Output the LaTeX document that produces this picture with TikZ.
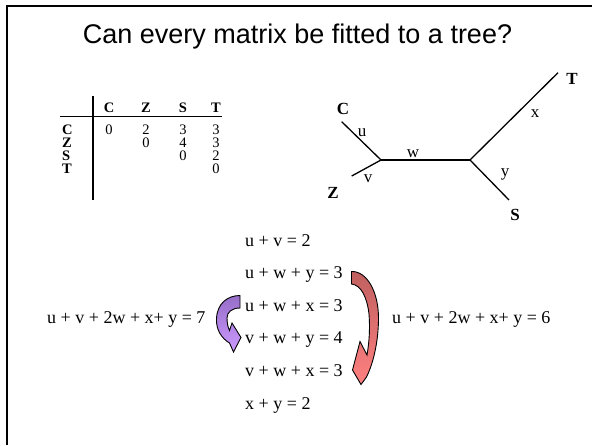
\documentclass[tikz,border=0pt]{standalone}
\usepackage{fontspec}
\setmainfont{Liberation Serif}
\newfontfamily\titlefont{Liberation Sans}
\definecolor{purpdark}{RGB}{150,110,200}
\definecolor{purplight}{RGB}{204,153,255}
\definecolor{reddark}{RGB}{192,96,96}
\definecolor{redlight}{RGB}{255,128,128}
\begin{document}
\begin{tikzpicture}[x=1pt,y=-1pt,
  eqn/.style={inner sep=0pt,anchor=base west,font=\fontsize{18}{20}\selectfont},
  tabtxt/.style={inner sep=0pt,anchor=base,font=\fontsize{14.5}{15}\selectfont},
  tabhdr/.style={inner sep=0pt,anchor=base,font=\fontsize{14.5}{15}\selectfont\bfseries},
  leaf/.style={inner sep=0pt,anchor=base,font=\fontsize{17}{18}\selectfont\bfseries},
  brlab/.style={inner sep=0pt,anchor=base,font=\fontsize{17}{18}\selectfont},
  branch/.style={line width=1.3pt},
  rule/.style={line width=1.8pt},
  curvearrow/.style={draw=black,line width=0.9pt,line join=miter}]
\useasboundingbox (0,0) rectangle (592,445);
\fill[white] (0,0) rectangle (592,445);
% slide frame
\draw[line width=2.3pt] (7.2,445) -- (7.2,6.2) -- (592,6.2);
% title
\node[inner sep=0pt,anchor=base,font=\titlefont\fontsize{27}{29}\selectfont] (title) at (297.5,43) {Can every matrix be fitted to a tree?};
% table
\draw[rule] (93,96) -- (93,200);
\draw[rule] (60,116.5) -- (222,116.5);
\node[tabhdr] (hC) at (109,112) {C};
\node[tabhdr] (hZ) at (146,112) {Z};
\node[tabhdr] (hS) at (183,112) {S};
\node[tabhdr] (hT) at (216,112) {T};
\node[tabhdr,anchor=base west] (rC) at (62,134) {C};
\node[tabhdr,anchor=base west] (rZ) at (62,147) {Z};
\node[tabhdr,anchor=base west] (rS) at (62,160) {S};
\node[tabhdr,anchor=base west] (rT) at (62,173) {T};
\node[tabtxt] (m11) at (109,134) {0};
\node[tabtxt] (m12) at (146,134) {2};
\node[tabtxt] (m13) at (183,134) {3};
\node[tabtxt] (m14) at (216,134) {3};
\node[tabtxt] (m22) at (146,147) {0};
\node[tabtxt] (m23) at (183,147) {4};
\node[tabtxt] (m24) at (216,147) {3};
\node[tabtxt] (m33) at (183,160) {0};
\node[tabtxt] (m34) at (216,160) {2};
\node[tabtxt] (m44) at (216,173) {0};
% tree
\coordinate (endC) at (341.7,121.7);
\coordinate (endZ) at (351.7,176);
\coordinate (jL) at (381,160);
\coordinate (jR) at (470,160);
\coordinate (endT) at (558,72.7);
\coordinate (endS) at (509,200);
\draw[branch] (endC) -- (jL);
\draw[branch] (endZ) -- (jL);
\draw[branch] (jL) -- (jR);
\draw[branch] (jR) -- (endT);
\draw[branch] (jR) -- (endS);
\node[leaf] (lC) at (343,114) {C};
\node[leaf] (lZ) at (333,198) {Z};
\node[leaf] (lS) at (515,220) {S};
\node[leaf] (lT) at (572,84) {T};
\node[brlab] (lu) at (362,136) {u};
\node[brlab] (lv) at (368,182) {v};
\node[brlab] (lw) at (413,157) {w};
\node[brlab] (lx) at (535,117) {x};
\node[brlab] (ly) at (505,176) {y};
% equations
\node[eqn] (e1) at (245,246) {u + v = 2};
\node[eqn] (e2) at (245,278.6) {u + w + y = 3};
\node[eqn] (e3) at (245,311) {u + w + x = 3};
\node[eqn] (e4) at (245,343.6) {v + w + y = 4};
\node[eqn] (e5) at (245,376) {v + w + x = 3};
\node[eqn] (e6) at (245,409) {x + y = 2};
\node[eqn] (sumL) at (47,323) {u + v + 2w + x+ y = 7};
\node[eqn] (sumR) at (392,323) {u + v + 2w + x+ y = 6};
% purple curved arrow
\path[curvearrow,top color=purpdark,bottom color=purplight]
  (240,295.5) -- (240,308)
  .. controls (232,308) and (227,312) .. (227,318)
  .. controls (227,323) and (228,327.5) .. (229.5,330.5)
  -- (232,323) -- (241,337.5) -- (233.5,352) -- (229.5,343)
  .. controls (221,338) and (216,329) .. (216.5,319)
  .. controls (217,303) and (228,295.5) .. (240,295.5) -- cycle;
% red curved arrow
\path[curvearrow,top color=reddark,bottom color=redlight]
  (351.5,271.5)
  .. controls (367,271) and (378.5,292) .. (378.5,318)
  .. controls (378.5,342) and (373,364) .. (366.5,377)
  -- (361,384.5) -- (352.5,370) -- (360,341.5) -- (367,355)
  .. controls (369.5,341) and (370,327) .. (369,314)
  .. controls (367,297) and (361,285) .. (351.5,284)
  -- cycle;
\end{tikzpicture}
\end{document}
